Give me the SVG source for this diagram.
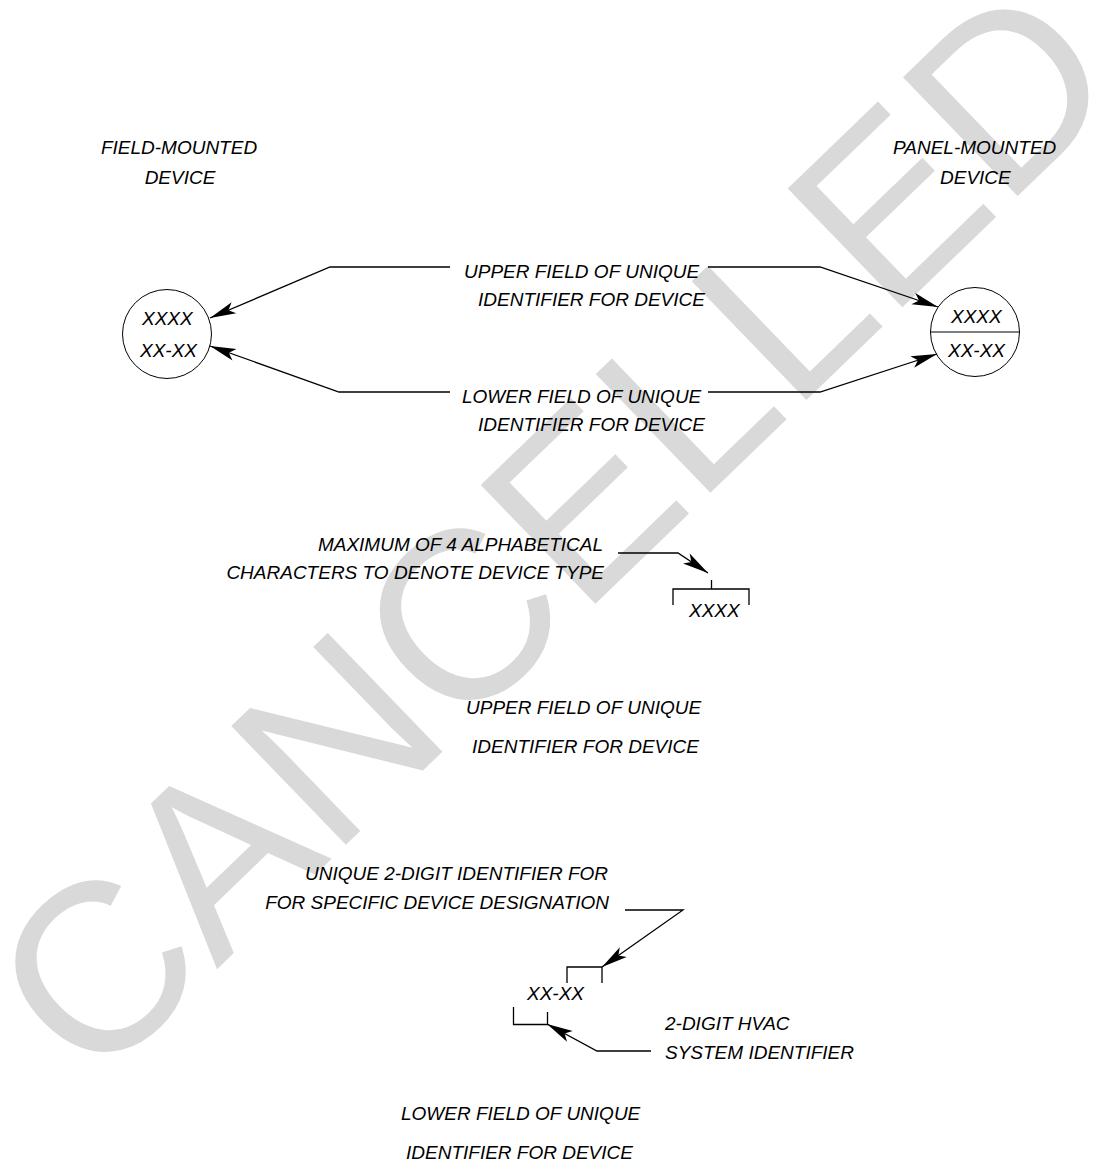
<svg xmlns="http://www.w3.org/2000/svg" width="1094" height="1173" viewBox="0 0 1094 1173">
<style>
.t{font-family:"Liberation Sans",Arial,sans-serif;font-style:italic;font-size:19px;fill:#000}
.m{text-anchor:middle}
.e{text-anchor:end}
.ln{fill:none;stroke:#000;stroke-width:1.3}
.c{fill:none;stroke:#000;stroke-width:1}
.wm{font-family:"Liberation Sans",Arial,sans-serif;font-size:240px;fill:#d9d9d9}
</style>
<defs>
<marker id="ah" markerUnits="userSpaceOnUse" markerWidth="32" markerHeight="18" viewBox="-28 -9 30 18" refX="0" refY="0" orient="auto">
<path d="M0,0 L-26,-6 L-20,0 L-26,6 Z" fill="#000"/>
</marker>
</defs>
<rect width="1094" height="1173" fill="#fff"/>
<g id="watermark">
<text class="wm" transform="translate(92,1090) rotate(-44)">CANCELLED</text>
</g>
<g id="connectors">
<path class="ln" d="M450,267 L330,267 L210,318" marker-end="url(#ah)"/>
<path class="ln" d="M450,392 L339,392 L210,346" marker-end="url(#ah)"/>
<path class="ln" d="M708,267 L820,267 L938,307" marker-end="url(#ah)"/>
<path class="ln" d="M708,392 L820,392 L937,354" marker-end="url(#ah)"/>
<path class="ln" d="M618,553 L678,553 L708,573" marker-end="url(#ah)"/>
<path class="ln" d="M625,910 L683,910 L602,967" marker-end="url(#ah)"/>
<path class="ln" d="M651,1051 L597,1051 L547,1024" marker-end="url(#ah)"/>
</g>
<g id="field-device">
<circle class="c" cx="167" cy="334" r="44.5"/>
<text class="t" x="142" y="325">XXXX</text>
<text class="t" x="140" y="357">XX-XX</text>
</g>
<g id="panel-device">
<circle class="c" cx="975" cy="332" r="44.5"/>
<line class="c" x1="930.5" y1="332" x2="1019.5" y2="332"/>
<text class="t" x="951" y="323">XXXX</text>
<text class="t" x="948" y="357">XX-XX</text>
</g>
<g id="labels-top">
<text class="t m" x="179" y="154">FIELD-MOUNTED</text>
<text class="t m" x="180" y="184">DEVICE</text>
<text class="t" x="893" y="154">PANEL-MOUNTED</text>
<text class="t" x="940" y="184">DEVICE</text>
<text class="t" x="464" y="278">UPPER FIELD OF UNIQUE</text>
<text class="t" x="478" y="306">IDENTIFIER FOR DEVICE</text>
<text class="t" x="462" y="403">LOWER FIELD OF UNIQUE</text>
<text class="t" x="478" y="431">IDENTIFIER FOR DEVICE</text>
</g>
<g id="upper-field">
<text class="t e" x="603" y="551">MAXIMUM OF 4 ALPHABETICAL</text>
<text class="t e" x="604" y="579">CHARACTERS TO DENOTE DEVICE TYPE</text>
<path class="ln" d="M711.5,580 V589 M673,605 V589 H749 V605"/>
<text class="t" x="689" y="617">XXXX</text>
<text class="t" x="466" y="714">UPPER FIELD OF UNIQUE</text>
<text class="t" x="472" y="753">IDENTIFIER FOR DEVICE</text>
</g>
<g id="lower-field">
<text class="t e" x="608" y="880">UNIQUE 2-DIGIT IDENTIFIER FOR</text>
<text class="t e" x="609" y="909">FOR SPECIFIC DEVICE DESIGNATION</text>
<path class="ln" d="M567,983 V967 H602 V983"/>
<text class="t" x="527" y="1000">XX-XX</text>
<path class="ln" d="M513.5,1007 V1024.5 H547.5 V1012"/>
<text class="t" x="665" y="1030">2-DIGIT HVAC</text>
<text class="t" x="665" y="1059">SYSTEM IDENTIFIER</text>
<text class="t" x="401" y="1120">LOWER FIELD OF UNIQUE</text>
<text class="t" x="406" y="1159">IDENTIFIER FOR DEVICE</text>
</g>
</svg>
